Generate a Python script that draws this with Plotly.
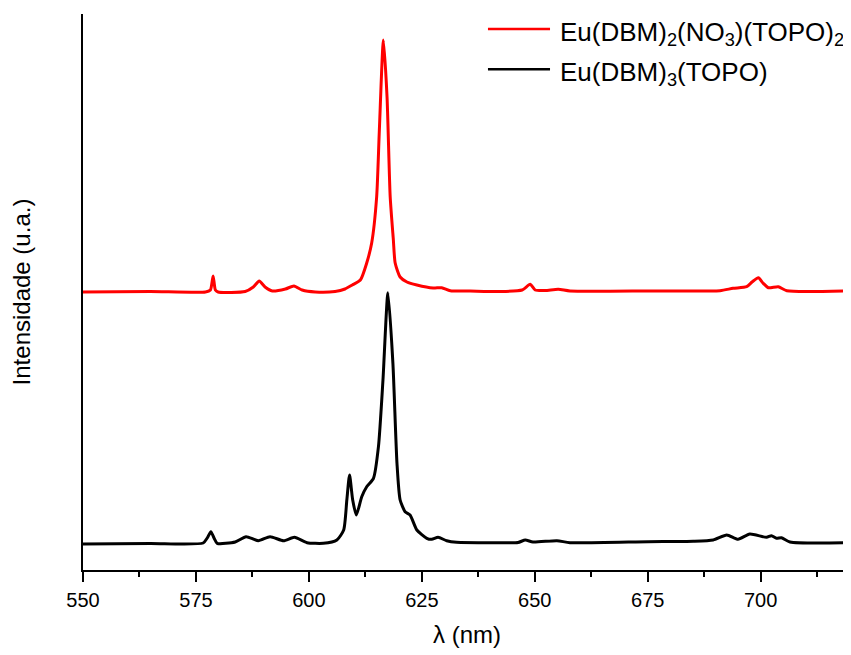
import plotly.graph_objects as go

# Wavelength (nm) and intensity (a.u.)
red_wl = [550.0, 564.9, 577.1, 578.2, 578.8, 579.3, 579.9, 585.9, 587.7, 589.0, 590.3, 591.9,
          594.8, 596.7, 598.5, 601.4, 605.8, 608.0, 609.6, 611.4, 612.8, 613.9, 615.0, 615.6,
          616.5, 617.3, 618.0, 618.7, 619.1, 620.2, 621.7, 623.9, 627.5, 629.4, 631.3, 635.7,
          642.3, 647.2, 649.0, 650.1, 652.3, 655.2, 657.8, 675.5, 691.0, 693.9, 696.9, 698.1,
          699.5, 700.5, 701.7, 703.9, 705.8, 720.0]
red_int = [278, 278.5, 278, 280, 294, 280, 278, 278.5, 283, 289, 283, 279,
           281, 284, 280, 278, 278.5, 281, 285, 290, 307, 327, 373, 440,
           530, 473, 373, 330, 307, 293, 288, 285, 282, 282.3, 279.3, 279,
           278.5, 280, 285.7, 280, 279.5, 280.7, 279, 279, 279.3, 281.7, 283.3, 288,
           292.3, 287, 282.3, 283.3, 279.3, 279.3]

black_wl = [550.0, 564.9, 576.6, 577.5, 578.3, 579.0, 579.7, 583.7, 586.1, 588.8, 591.4, 594.4,
            596.8, 599.6, 603.2, 606.2, 607.7, 608.4, 609.0, 609.7, 610.5, 611.7, 612.8, 614.3,
            615.4, 616.4, 617.5, 618.6, 619.5, 620.2, 621.3, 622.4, 623.9, 626.1, 627.2, 628.6,
            630.5, 632.7, 642.3, 646.3, 647.9, 649.6, 654.9, 657.8, 675.1, 685.1, 689.5, 692.5,
            695.0, 697.6, 701.3, 702.4, 703.5, 704.6, 706.5, 720.0]
black_int = [26, 26.5, 27, 32, 38.3, 32, 26.7, 28, 33.3, 29.3, 33.3, 29.3,
             32.7, 27.3, 26.7, 30, 40, 70, 95, 70, 55, 73.3, 83.3, 91.7,
             123.3, 190, 277.3, 206.7, 106.7, 70, 58.3, 55, 40, 31.7, 30.7, 32.7,
             29.3, 27.7, 27.3, 27.5, 30, 28, 29.3, 27.3, 28.3, 28.7, 30, 35,
             30.7, 36, 32.7, 34.3, 31.7, 32.3, 28, 27.3]

red_name = "Eu(DBM)<sub>2</sub>(NO<sub>3</sub>)(TOPO)<sub>2</sub>"
black_name = "Eu(DBM)<sub>3</sub>(TOPO)"
x_ticks = [550, 575, 600, 625, 650, 675, 700]
x_minor = [562.5, 587.5, 612.5, 637.5, 662.5, 687.5, 712.5]

FONT = "Liberation Sans, Arial, sans-serif"

fig = go.Figure()
fig.add_trace(go.Scatter(x=red_wl, y=red_int, mode="lines", name=red_name,
                         line=dict(color="#ff0000", width=3, shape="spline", smoothing=0.6),
                         showlegend=False))
fig.add_trace(go.Scatter(x=black_wl, y=black_int, mode="lines", name=black_name,
                         line=dict(color="#000000", width=3, shape="spline", smoothing=0.6),
                         showlegend=False))

# manual legend
for yy, col, txt in [(0.973, "#ff0000", red_name), (0.9005, "#000000", black_name)]:
    fig.add_shape(type="line", xref="paper", yref="paper", x0=0.5273, x1=0.6081, y0=yy, y1=yy,
                  line=dict(color=col, width=2.5))
    fig.add_annotation(xref="paper", yref="paper", x=0.6185, y=yy, text=txt, showarrow=False,
                       xanchor="left", yanchor="middle", yshift=-4,
                       font=dict(family=FONT, size=26, color="#000000"))

fig.update_layout(
    width=843, height=647,
    margin=dict(l=75, r=0, t=6, b=85),
    plot_bgcolor="white", paper_bgcolor="white",
    font=dict(family=FONT, color="#000000"),
    xaxis=dict(range=[550, 720], tickvals=x_ticks, ticks="outside", ticklen=10, tickwidth=2,
               tickcolor="black", showline=True, linecolor="black", linewidth=2,
               showgrid=False, zeroline=False, tickfont=dict(size=20, family=FONT),
               ticklabelstandoff=1, automargin=False,
               minor=dict(tickvals=x_minor, ticks="outside", ticklen=5, tickwidth=2,
                          tickcolor="black"),
               title=dict(text="λ (nm)", font=dict(size=24, family=FONT), standoff=16)),
    yaxis=dict(range=[0, 556], showticklabels=False, ticks="", showline=True, linecolor="black",
               linewidth=2, showgrid=False, zeroline=False, automargin=False,
               title=dict(text="Intensidade (u.a.)", font=dict(size=24, family=FONT), standoff=46)),
)

fig.write_html("out.html")
